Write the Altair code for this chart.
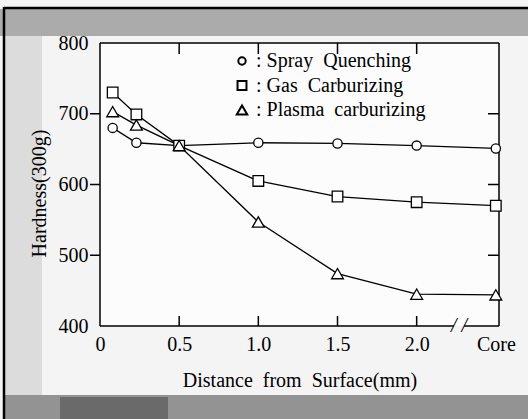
import altair as alt
import pandas as pd

# ---- data ----
distance = [0.08, 0.23, 0.5, 1.0, 1.5, 2.0, 2.5]          # 2.5 == "Core"
spray = [680, 659, 655, 659, 658, 655, 651]
gas = [730, 699, 655, 605, 583, 575, 570]
plasma = [703, 684, 655, 547, 474, 445, 444]
series_names = ["Spray Quenching", "Gas Carburizing", "Plasma carburizing"]
series_shapes = ["circle", "square", "triangle-up"]
series_sizes = [85, 140, 190]
legend_sizes = [55, 80, 110]

x_tick_values = [0, 0.5, 1.0, 1.5, 2.0, 2.5]
x_tick_labels = ["0", "0.5", "1.0", "1.5", "2.0", "Core"]
y_tick_values = [400, 500, 600, 700, 800]
inner_x_ticks = [0.5, 1.0, 1.5, 2.0]
inner_y_ticks = [500, 600, 700]
axis_segments_start = [0, 2.30]
axis_segments_end = [2.235, 2.52]
break_mark = [2.268]

W, H = 399, 283
FONT = "Liberation Serif"

rows = []
for name, shp, vals in zip(series_names, series_shapes, [spray, gas, plasma]):
    for d, v in zip(distance, vals):
        rows.append({"series": name, "marker": shp, "distance": d, "hardness": v})
df = pd.DataFrame(rows)

xscale = alt.Scale(domain=[0, 2.52], nice=False, zero=False)
yscale = alt.Scale(domain=[400, 800], nice=False, zero=False)

label_expr = "[" + ",".join("'%s'" % l for l in x_tick_labels) + "][indexof([" + \
    ",".join(str(v) for v in x_tick_values) + "], datum.value)]"

x_axis = alt.Axis(values=x_tick_values, labelExpr=label_expr, ticks=False, domain=False,
                  grid=False, labelPadding=8, labelFont=FONT, labelFontSize=20,
                  labelColor="black", labelFlush=False, zindex=1,
                  title="Distance\u00a0\u00a0from\u00a0\u00a0Surface(mm)",
                  titleFont=FONT, titleFontSize=20, titleFontWeight="normal",
                  titleColor="black", titlePadding=16)
y_axis = alt.Axis(values=y_tick_values, ticks=False, domain=False, grid=False,
                  labelPadding=12, labelFont=FONT, labelFontSize=20,
                  labelColor="black", labelFlush=False, zindex=1,
                  title="Hardness(300g)", titleFont=FONT, titleFontSize=20,
                  titleFontWeight="normal", titleColor="black",
                  titleX=-61, titleY=150, titleAngle=270,
                  titleAlign="center", titleBaseline="middle")


def X(field):
    return alt.X(field, scale=xscale, axis=x_axis)


def Y(field):
    return alt.Y(field, scale=yscale, axis=y_axis)


# decoration (scan bands and border)
deco = pd.DataFrame({"k": [0]})
top_band = alt.Chart(deco).mark_rect(color="#ababab").encode(
    x=alt.value(-100), x2=alt.value(428), y=alt.value(-34), y2=alt.value(-7))
bottom_band = alt.Chart(deco).mark_rect(color="#939393").encode(
    x=alt.value(-96), x2=alt.value(428), y=alt.value(H + 69), y2=alt.value(H + 93))
bottom_dark = alt.Chart(deco).mark_rect(color="#6a6a6a").encode(
    x=alt.value(-40), x2=alt.value(68), y=alt.value(H + 71), y2=alt.value(H + 93))
left_band = alt.Chart(deco).mark_rect(color="#dcdcdc").encode(
    x=alt.value(-95), x2=alt.value(-58), y=alt.value(-7), y2=alt.value(H + 69))
border_top = alt.Chart(deco).mark_rule(color="black", strokeWidth=2.5).encode(
    x=alt.value(-96), x2=alt.value(428), y=alt.value(-35))
border_left = alt.Chart(deco).mark_rule(color="black", strokeWidth=2.5).encode(
    x=alt.value(-96), y=alt.value(-36), y2=alt.value(H + 93))

# frame
frame_left = alt.Chart(deco).mark_rule(color="black", strokeWidth=1.5).encode(
    x=alt.value(0), y=alt.value(0), y2=alt.value(H))
frame_top = alt.Chart(deco).mark_rule(color="black", strokeWidth=1.5).encode(
    y=alt.value(0), x=alt.value(0), x2=alt.value(W))
frame_right = alt.Chart(deco).mark_rule(color="black", strokeWidth=1.5).encode(
    x=alt.value(W), y=alt.value(0), y2=alt.value(H))
seg_df = pd.DataFrame({"a": axis_segments_start, "b": axis_segments_end})
frame_bottom = alt.Chart(seg_df).mark_rule(color="black", strokeWidth=1.5).encode(
    x=X("a:Q"), x2="b:Q", y=alt.value(H))
brk = alt.Chart(pd.DataFrame({"x": break_mark})).mark_text(
    text="/ /", font=FONT, fontSize=20, fontStyle="italic", baseline="middle", align="center"
).encode(x=X("x:Q"), y=alt.value(H))

# inner ticks
xt = pd.DataFrame({"x": inner_x_ticks})
yt = pd.DataFrame({"y": inner_y_ticks})
top_ticks = alt.Chart(xt).mark_rule(color="black", strokeWidth=1.5).encode(
    x=X("x:Q"), y=alt.value(0), y2=alt.value(11))
bottom_ticks = alt.Chart(xt).mark_rule(color="black", strokeWidth=1.5).encode(
    x=X("x:Q"), y=alt.value(H - 10), y2=alt.value(H))
right_ticks = alt.Chart(yt).mark_rule(color="black", strokeWidth=1.5).encode(
    y=Y("y:Q"), x=alt.value(W - 11), x2=alt.value(W))
left_ticks = alt.Chart(yt).mark_rule(color="black", strokeWidth=1.5).encode(
    y=Y("y:Q"), x=alt.value(-10), x2=alt.value(0))

base = alt.Chart(df)
lines = base.mark_line(color="black", strokeWidth=1.3).encode(
    x=X("distance:Q"), y=Y("hardness:Q"), detail="series:N")

points = base.mark_point(filled=True, fill="white", stroke="black", strokeWidth=1.3,
                         opacity=1).encode(
    x=X("distance:Q"),
    y=Y("hardness:Q"),
    shape=alt.Shape("series:N",
                    scale=alt.Scale(domain=series_names, range=series_shapes),
                    legend=None),
    size=alt.Size("marker:N", scale=alt.Scale(domain=series_shapes, range=series_sizes),
                  legend=None),
)

# key (legend) drawn as symbol + text rows inside the plot
legend_layers = []
for i, (name, shp, sz) in enumerate(zip(series_names, series_shapes, legend_sizes)):
    ky = 18 + 24.5 * i
    ldf = pd.DataFrame({"label": [": " + name.replace(" ", "\u00a0\u00a0")]})
    legend_layers.append(
        alt.Chart(ldf).mark_point(shape=shp, size=sz, filled=False, color="black",
                                  strokeWidth=2, opacity=1).encode(
            x=alt.value(142), y=alt.value(ky)))
    legend_layers.append(
        alt.Chart(ldf).mark_text(font=FONT, fontSize=20, color="black", align="left",
                                 baseline="middle").encode(
            text="label:N", x=alt.value(156), y=alt.value(ky)))

chart = alt.layer(
    top_band, bottom_band, bottom_dark, left_band, border_top, border_left,
    frame_left, frame_top, frame_right, frame_bottom, brk,
    top_ticks, bottom_ticks, right_ticks, left_ticks,
    lines, points, *legend_layers,
).properties(
    width=W, height=H,
    padding={"left": 100, "top": 43, "right": 29, "bottom": 93},
    autosize=alt.AutoSizeParams(type="none"),
).configure(background="#f4f4f4").configure_view(stroke=None, fill="#fcfcfc")

chart.save("out.html", embed_options={"renderer": "svg", "actions": False})
